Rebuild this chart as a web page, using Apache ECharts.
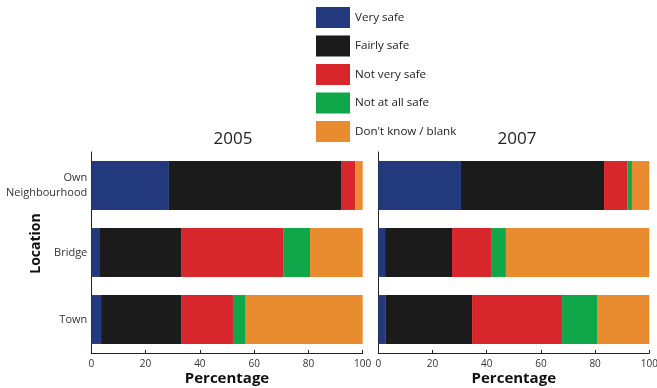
<!DOCTYPE html>
<html>
<head>
<meta charset="utf-8">
<script src="https://cdn.jsdelivr.net/npm/echarts@6/dist/echarts.min.js"></script>
<style>
  html, body { margin: 0; padding: 0; background: #fff; }
  #chart { width: 657px; height: 388px; }
</style>
</head>
<body>
<div id="chart"></div>
<script>
// Locations (top to bottom)
const locations = ['Own\nNeighbourhood', 'Bridge', 'Town'];

// Response categories and their colours
const responses = ['Very safe', 'Fairly safe', 'Not very safe', 'Not at all safe', "Don't know / blank"];
const responseColors = ['#22397d', '#1b1b1b', '#d8262d', '#10a64a', '#e98b2f'];

// Percentages per response, one value per location, 2005 survey
const verySafe2005     = [28.6, 3.2, 3.6];
const fairlySafe2005   = [63.4, 30.1, 29.7];
const notVerySafe2005  = [5.2, 37.6, 18.9];
const notAtAllSafe2005 = [0, 9.7, 4.7];
const dontKnow2005     = [2.8, 19.4, 43.1];

// Percentages per response, one value per location, 2007 survey
const verySafe2007     = [30.5, 2.5, 2.8];
const fairlySafe2007   = [52.8, 24.7, 31.8];
const notVerySafe2007  = [8.7, 14.7, 33.2];
const notAtAllSafe2007 = [1.6, 5.2, 12.9];
const dontKnow2007     = [6.4, 52.9, 19.3];

const xTicks = [0, 20, 40, 60, 80, 100];
const panelTitles = ['2005', '2007'];

const data2005 = [verySafe2005, fairlySafe2005, notVerySafe2005, notAtAllSafe2005, dontKnow2005];
const data2007 = [verySafe2007, fairlySafe2007, notVerySafe2007, notAtAllSafe2007, dontKnow2007];

const FONT = '"Open Sans", "Noto Sans", sans-serif';
const AXIS_COLOR = '#222';

const chart = echarts.init(document.getElementById('chart'), null, { renderer: 'canvas' });

function makeSeries(panelData, idx) {
  return responses.map((name, i) => ({
    name: name,
    type: 'bar',
    stack: 'panel' + idx,
    xAxisIndex: idx,
    yAxisIndex: idx,
    barCategoryGap: '27%',
    itemStyle: { color: responseColors[i] },
    emphasis: { disabled: true },
    data: panelData[i]
  }));
}

function makeXAxis(idx) {
  return {
    type: 'value',
    gridIndex: idx,
    min: xTicks[0],
    max: xTicks[xTicks.length - 1],
    interval: xTicks[1] - xTicks[0],
    name: 'Percentage',
    nameLocation: 'middle',
    nameGap: 18,
    nameMoveOverlap: false,
    nameTextStyle: { fontFamily: FONT, fontSize: 15, fontWeight: 'bold', color: '#111' },
    axisLine: { show: true, lineStyle: { color: AXIS_COLOR, width: 1 } },
    axisTick: { show: true, inside: true, length: 3, lineStyle: { color: AXIS_COLOR } },
    axisLabel: { fontFamily: FONT, fontSize: 10, color: '#333', margin: 6 },
    splitLine: { show: false }
  };
}

function makeYAxis(idx) {
  return {
    type: 'category',
    gridIndex: idx,
    inverse: true,
    data: locations,
    name: idx === 0 ? 'Location' : '',
    nameLocation: 'middle',
    nameRotate: 90,
    nameGap: 48,
    nameMoveOverlap: false,
    nameTextStyle: {
      fontFamily: FONT, fontSize: 14, fontWeight: 'bold', color: '#111',
      padding: [0, 0, 0, 18]
    },
    axisLine: { show: true, lineStyle: { color: AXIS_COLOR, width: 1 } },
    axisTick: { show: false },
    axisLabel: {
      show: idx === 0,
      fontFamily: FONT,
      fontSize: 11,
      lineHeight: 15,
      color: '#333',
      margin: 4,
      align: 'right'
    }
  };
}

const option = {
  animation: false,
  backgroundColor: '#fff',
  title: panelTitles.map((t, i) => ({
    text: t,
    left: i === 0 ? 228 : 512,
    top: 126,
    textAlign: 'center',
    textStyle: { fontFamily: FONT, fontSize: 17, fontWeight: 'normal', color: '#222' }
  })),
  legend: {
    data: responses,
    orient: 'vertical',
    left: 316,
    top: 7,
    padding: 0,
    itemWidth: 34,
    itemHeight: 21,
    itemGap: 7.5,
    icon: 'rect',
    selectedMode: false,
    textStyle: { fontFamily: FONT, fontSize: 11.6, color: '#222' }
  },
  grid: [
    { left: 91.3, top: 152, width: 271.4, height: 201, containLabel: false, outerBoundsMode: 'none' },
    { left: 378.3, top: 152, width: 271, height: 201, containLabel: false, outerBoundsMode: 'none' }
  ],
  xAxis: [makeXAxis(0), makeXAxis(1)],
  yAxis: [makeYAxis(0), makeYAxis(1)],
  series: makeSeries(data2005, 0).concat(makeSeries(data2007, 1))
};

chart.setOption(option);
</script>
</body>
</html>
